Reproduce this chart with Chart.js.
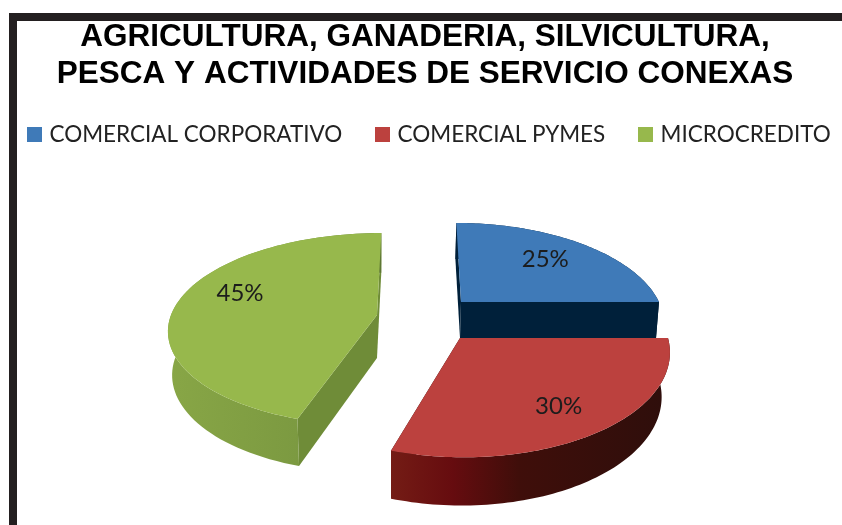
<!DOCTYPE html>
<html>
<head>
<meta charset="utf-8">
<style>
html,body{margin:0;padding:0;background:#fff;overflow:hidden}
#wrap{position:relative;width:842px;height:525px}
canvas{display:block;filter:blur(0.4px)}
#frame{position:absolute;left:9px;top:13px;right:0;bottom:0;border-left:8px solid #231f20;border-top:8px solid #231f20;pointer-events:none}
</style>
</head>
<body>
<div id="wrap"><canvas id="c" width="842" height="525"></canvas><div id="frame"></div></div>
<script src="https://cdn.jsdelivr.net/npm/chart.js@4"></script>
<script>
const categories = ["COMERCIAL CORPORATIVO", "COMERCIAL PYMES", "MICROCREDITO"];
const values = [25, 30, 45];
const colors = ["#3f7ab8", "#bc413e", "#97b84c"];
const titleLines = ["AGRICULTURA, GANADERIA, SILVICULTURA,", "PESCA Y ACTIVIDADES DE SERVICIO CONEXAS"];

// 3D projection of each wedge (perspective, extrusion, shading)
const projections = [
  {c:[461,302], a:[198,0], b:[5.6,94.8], m:0.2,  d:[-1,36], sx:0.99, sy:1,
   wall:[[0,"#00203a"],[1,"#00203a"]], cut:"#00203a", nudge:[9,-6]},
  {c:[460,338], a:[208,0], b:[3.3,105], m:0.12, d:[-2,44], sx:0.97, sy:1.035,
   wall:[[0,"#741c15"],[0.22,"#660c0f"],[0.46,"#3f0e0a"],[1,"#2e0e0b"]], cut:"#2e0e0b", nudge:[19,14]},
  {c:[377,315], a:[206,0], b:[-5,94], m:0.147, d:[0,43], sx:0.98, sy:1.04,
   wall:[[0,"#88a646"],[0.6,"#7c9a41"],[1,"#5e7734"]], cut:"#6f8c38", nudge:[-17,-13]}
];
const drawOrder = [2, 0, 1];
const titleShift = 4, legendShift = [10, -7];

function top3d(p, ang, r) {
  const ux = Math.cos(ang) * r, uy = Math.sin(ang) * r, w = 1 - p.m * uy;
  return [(ux * p.a[0] + uy * p.b[0]) / w, (ux * p.a[1] + uy * p.b[1]) / w];
}
function topPt(p, ang, r) { const q = top3d(p, ang, r); return [p.c[0] + q[0], p.c[1] + q[1]]; }
function botPt(p, ang, r) { const q = top3d(p, ang, r); return [p.c[0] + p.d[0] + q[0] * p.sx, p.c[1] + p.d[1] + q[1] * p.sy]; }
function rim(fn, p, a0, a1) {
  const n = 80, pts = [];
  for (let i = 0; i <= n; i++) pts.push(fn(p, a0 + (a1 - a0) * i / n, 1));
  return pts;
}
function fillPoly(ctx, pts, fill) {
  ctx.beginPath();
  pts.forEach((q, i) => i ? ctx.lineTo(q[0], q[1]) : ctx.moveTo(q[0], q[1]));
  ctx.closePath();
  ctx.fillStyle = fill;
  ctx.fill();
}

const pie3d = {
  id: "pie3d",
  afterLayout(chart) {
    chart.titleBlock.left += titleShift; chart.titleBlock.right += titleShift;
    chart.legend.left += legendShift[0]; chart.legend.right += legendShift[0];
    chart.legend.top += legendShift[1]; chart.legend.bottom += legendShift[1];
  },
  beforeDatasetDraw(chart, args) {
    const ctx = chart.ctx, arcs = chart.getDatasetMeta(args.index).data;
    drawOrder.forEach(i => {
      const p = projections[i], a0 = arcs[i].startAngle, a1 = arcs[i].endAngle;
      const cTop = topPt(p, 0, 0), cBot = botPt(p, 0, 0);
      // cut faces
      fillPoly(ctx, [cTop, topPt(p, a0, 1), botPt(p, a0, 1), cBot], p.cut);
      fillPoly(ctx, [cTop, topPt(p, a1, 1), botPt(p, a1, 1), cBot], p.cut);
      // outer wall
      const t = rim(topPt, p, a0, a1), b = rim(botPt, p, a0, a1);
      const xs = t.concat(b).map(q => q[0]);
      const g = ctx.createLinearGradient(Math.min.apply(null, xs), 0, Math.max.apply(null, xs), 0);
      p.wall.forEach(s => g.addColorStop(s[0], s[1]));
      fillPoly(ctx, t.concat(b.slice().reverse()), g);
      // top face
      fillPoly(ctx, [cTop].concat(t), colors[i]);
    });
    // percentage labels
    const total = values.reduce((s, v) => s + v, 0);
    ctx.font = "24px Lato";
    ctx.fillStyle = "#1c1c1c";
    ctx.textAlign = "center";
    ctx.textBaseline = "middle";
    arcs.forEach((arc, i) => {
      const p = projections[i], q = topPt(p, (arc.startAngle + arc.endAngle) / 2, 0.6);
      ctx.fillText(Math.round(values[i] / total * 100) + "%", q[0] + p.nudge[0], q[1] + p.nudge[1]);
    });
    return false;
  }
};

function swatch(color) {
  const s = document.createElement("canvas");
  s.width = 15; s.height = 15;
  const x = s.getContext("2d");
  x.fillStyle = color; x.fillRect(0, 0, 15, 15);
  return s;
}
const swatches = colors.map(swatch);

new Chart(document.getElementById("c"), {
  type: "pie",
  data: { labels: categories, datasets: [{ data: values, backgroundColor: colors, borderWidth: 0 }] },
  options: {
    responsive: false,
    animation: false,
    layout: { padding: { left: -40, top: 19, right: -40, bottom: 0 } },
    plugins: {
      tooltip: { enabled: false },
      title: {
        display: true,
        text: titleLines,
        color: "#000",
        font: { family: "'Liberation Sans'", weight: "bold", size: 31.5, lineHeight: 1.175 },
        padding: { top: 0, bottom: 0 }
      },
      legend: {
        position: "top",
        labels: {
          usePointStyle: true,
          pointStyleWidth: 7,
          boxHeight: 15,
          padding: 37,
          color: "#222",
          font: { family: "Lato", size: 22.5 },
          generateLabels: chart => categories.map((t, i) => ({
            text: t, fillStyle: colors[i], strokeStyle: colors[i], lineWidth: 0,
            pointStyle: swatches[i], fontColor: "#222", hidden: false, index: i
          }))
        }
      }
    }
  },
  plugins: [pie3d]
});
</script>
</body>
</html>
